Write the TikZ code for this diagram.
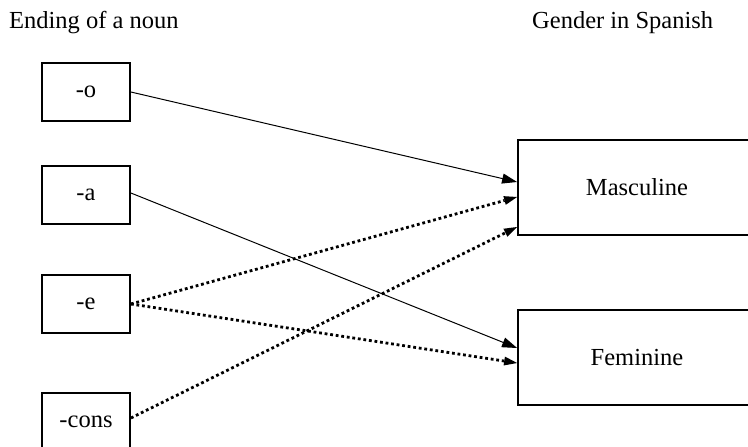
\documentclass[tikz,border=0pt]{standalone}
\usepackage{fontspec}
\setmainfont{Liberation Serif}
\usetikzlibrary{arrows.meta}
\begin{document}
\begin{tikzpicture}[x=1pt,y=-1pt,
  every node/.style={font=\fontsize{24.5}{29}\selectfont},
  endbox/.style={draw,line width=1.8pt,minimum width=88pt,minimum height=58pt,inner sep=0pt},
  genbox/.style={draw,line width=1.8pt,minimum width=238pt,minimum height=95pt,inner sep=0pt},
  solidarrow/.style={line width=1pt,-{Triangle[length=15pt,width=10pt]}},
  dotarrow/.style={line width=2.8pt,dash pattern=on 2.8pt off 2.8pt,-{Triangle[length=13pt,width=9pt,line width=0pt]}}
]
\clip (0,0) rectangle (748,447);
\fill[white] (0,0) rectangle (748,447);
\node[anchor=base west,inner sep=0pt] (t1) at (9,28) {Ending of a noun};
\node[anchor=base west,inner sep=0pt] (t2) at (532,28) {Gender in Spanish};
\node[endbox] (o) at (86,92) {-o};
\node[endbox] (a) at (86,195) {-a};
\node[endbox] (e) at (86,304) {-e};
\node[endbox] (c) at (86,422) {-cons};
\node[genbox] (m) at (637,187.5) {Masculine};
\node[genbox] (f) at (637,357.5) {Feminine};
\draw[solidarrow] (o.east) -- ([yshift=5.5pt]m.west);
\draw[solidarrow] ([yshift=2pt]a.east) -- ([yshift=9.5pt]f.west);
\draw[dotarrow] (e.east) -- ([yshift=-9.5pt]m.west);
\draw[dotarrow] (e.east) -- ([yshift=-5.5pt]f.west);
\draw[dotarrow] ([yshift=4pt]c.east) -- ([yshift=-39.5pt]m.west);
\end{tikzpicture}
\end{document}
